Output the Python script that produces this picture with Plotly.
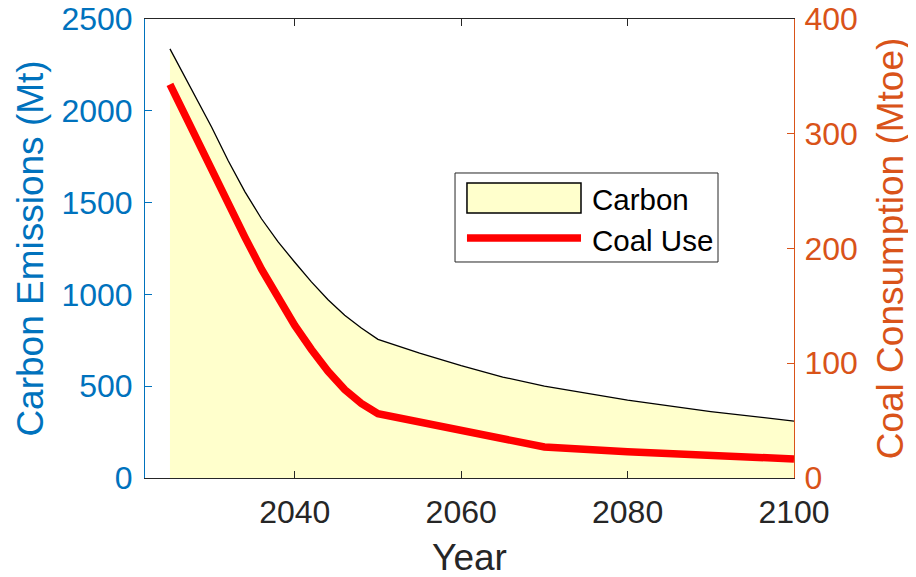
import plotly.graph_objects as go

years = [2025, 2030, 2032, 2034, 2036, 2038, 2040, 2042, 2044, 2046, 2048, 2050,
         2055, 2060, 2065, 2070, 2080, 2090, 2100]
carbon = [2337, 1912, 1728, 1560, 1412, 1286, 1175, 1068, 971, 886, 817, 755,
          680, 612, 550, 500, 424, 362, 310]
coal = [343, 268, 240, 210, 182, 156, 133, 112, 93, 77, 65, 56,
        49, 41.5, 34.5, 27, 22.8, 19.5, 16.6]

x_ticks = [2040, 2060, 2080, 2100]
y_ticks = [0, 500, 1000, 1500, 2000, 2500]
y2_ticks = [0, 100, 200, 300, 400]
legend_labels = ["Carbon", "Coal Use"]

BLUE = "#0072BD"
ORANGE = "#D95319"
DARK = "#262626"
FILL = "rgb(255,255,204)"
FONT = "Liberation Sans, Arial, sans-serif"

fig = go.Figure()
fig.add_trace(go.Scatter(
    x=years, y=carbon, name=legend_labels[0], mode="lines",
    fill="tozeroy", fillcolor=FILL,
    line=dict(color="black", width=1.3), yaxis="y"))
fig.add_trace(go.Scatter(
    x=years, y=coal, name=legend_labels[1], mode="lines",
    line=dict(color="#FF0000", width=7.5), yaxis="y2"))

# manual MATLAB-style legend (paper coordinates)
shapes = [
    dict(type="rect", xref="paper", yref="paper", x0=0.4777, x1=0.8829, y0=0.4706, y1=0.6645,
         line=dict(color=DARK, width=1), fillcolor="white", layer="above"),
    dict(type="rect", xref="paper", yref="paper", x0=0.4961, x1=0.6718, y0=0.5773, y1=0.6427,
         line=dict(color="black", width=1.5), fillcolor=FILL, layer="above"),
    dict(type="line", xref="paper", yref="paper", x0=0.4961, x1=0.6718, y0=0.5229, y1=0.5229,
         line=dict(color="#FF0000", width=7.5), layer="above"),
]
annotations = [
    dict(text=legend_labels[0], xref="paper", yref="paper", x=0.6857, y=0.6057,
         xanchor="left", yanchor="middle", showarrow=False,
         font=dict(size=29.5, color="black", family=FONT)),
    dict(text=legend_labels[1], xref="paper", yref="paper", x=0.6857, y=0.5185,
         xanchor="left", yanchor="middle", showarrow=False,
         font=dict(size=29.5, color="black", family=FONT)),
]

fig.update_layout(
    width=916, height=577,
    margin=dict(l=137, r=130, t=11, b=107),
    paper_bgcolor="white", plot_bgcolor="white",
    font=dict(family=FONT, size=32, color=DARK),
    showlegend=False,
    shapes=shapes, annotations=annotations,
    xaxis=dict(range=[2022, 2100], tickvals=x_ticks, ticks="inside", ticklen=7,
               tickcolor=DARK, showline=True, linecolor=DARK, linewidth=1,
               mirror="ticks", showgrid=False, zeroline=False, automargin=False,
               tickfont=dict(size=32, color=DARK), ticklabelstandoff=6,
               ticklabeloverflow="allow",
               title=dict(text="Year", font=dict(size=37, color=DARK), standoff=14)),
    yaxis=dict(range=[0, 2500], tickvals=y_ticks, ticks="inside", ticklen=7,
               tickcolor=BLUE, showline=True, linecolor=BLUE, linewidth=1,
               showgrid=False, zeroline=False, automargin=False,
               tickfont=dict(size=32, color=BLUE), ticklabelstandoff=5,
               ticklabeloverflow="allow",
               title=dict(text="Carbon Emissions (Mt)", font=dict(size=37, color=BLUE), standoff=6)),
    yaxis2=dict(range=[0, 400], tickvals=y2_ticks, ticks="inside", ticklen=7,
                tickcolor=ORANGE, showline=True, linecolor=ORANGE, linewidth=1,
                overlaying="y", side="right", showgrid=False, zeroline=False, automargin=False,
                tickfont=dict(size=32, color=ORANGE), ticklabelstandoff=3,
                ticklabeloverflow="allow",
                title=dict(text="Coal Consumption (Mtoe)", font=dict(size=37, color=ORANGE), standoff=20)),
)

fig.write_html("out.html")
